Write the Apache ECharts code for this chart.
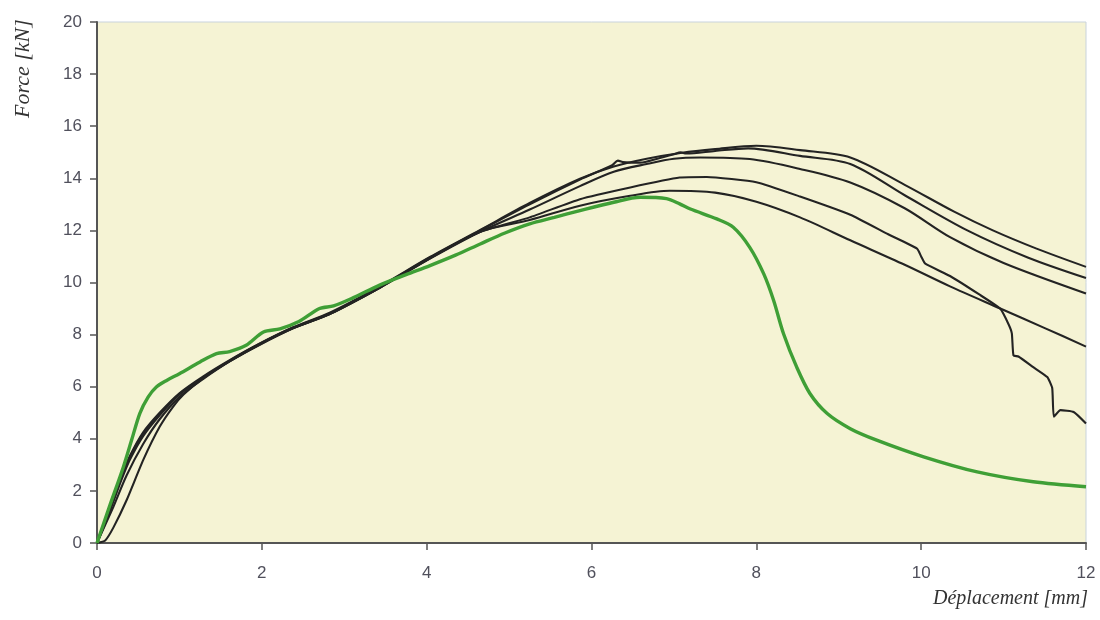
<!DOCTYPE html>
<html>
<head>
<meta charset="utf-8">
<script src="https://cdn.jsdelivr.net/npm/echarts@6/dist/echarts.min.js"></script>
<style>html,body{margin:0;padding:0;background:#fff}#c{width:1100px;height:620px}</style>
</head>
<body>
<div id="c"></div>
<script>
const xTicks = [0, 2, 4, 6, 8, 10, 12];
const yTicks = [0, 2, 4, 6, 8, 10, 12, 14, 16, 18, 20];
const xName = 'Déplacement [mm]';
const yName = 'Force [kN]';

const curveA = [[0,0],[0.1,0.85],[0.2,1.75],[0.3,2.6],[0.4,3.35],[0.56,4.25],[0.76,5.0],[1.0,5.75],[1.29,6.4],[1.61,7.02],[1.97,7.65],[2.38,8.28],[2.83,8.85],[3.43,9.85],[4.04,10.98],[4.65,12.02],[5.25,13.05],[5.86,13.98],[6.27,14.45],[6.67,14.75],[7.1,14.98],[7.5,15.12],[8.0,15.25],[8.53,15.08],[9.14,14.8],[9.8,13.75],[10.4,12.72],[10.87,12.0],[11.4,11.3],[12,10.6]];
const curveB = [[0,0],[0.1,0.8],[0.2,1.7],[0.3,2.55],[0.4,3.3],[0.56,4.2],[0.76,4.95],[1.0,5.72],[1.29,6.36],[1.61,7.0],[1.97,7.64],[2.38,8.27],[2.83,8.82],[3.43,9.83],[4.04,10.96],[4.65,12.0],[5.25,13.0],[5.86,13.95],[6.25,14.5],[6.32,14.68],[6.38,14.62],[6.59,14.6],[6.8,14.75],[7.0,14.92],[7.08,15.0],[7.15,14.95],[7.5,15.05],[7.9,15.15],[8.53,14.86],[9.14,14.55],[9.8,13.35],[10.56,12.0],[11.3,10.95],[12,10.17]];
const curveC = [[0,0],[0.1,0.75],[0.2,1.6],[0.3,2.45],[0.4,3.2],[0.56,4.1],[0.76,4.9],[1.0,5.7],[1.29,6.34],[1.61,6.98],[1.97,7.62],[2.38,8.25],[2.83,8.8],[3.43,9.8],[4.04,10.92],[4.65,11.95],[5.25,12.8],[5.86,13.7],[6.27,14.25],[6.67,14.55],[7.0,14.75],[7.32,14.8],[7.92,14.74],[8.53,14.36],[9.14,13.84],[9.8,12.85],[10.35,11.74],[11.0,10.75],[12,9.58]];
const curveD = [[0,0],[0.1,0.1],[0.2,0.6],[0.36,1.65],[0.56,3.18],[0.76,4.46],[0.92,5.22],[1.05,5.7],[1.29,6.33],[1.61,6.98],[1.97,7.62],[2.38,8.25],[2.83,8.8],[3.43,9.8],[4.04,10.94],[4.65,11.95],[5.25,12.5],[5.86,13.2],[6.47,13.65],[7.07,14.03],[7.4,14.05],[8.0,13.85],[8.53,13.3],[9.14,12.6],[9.6,11.85],[9.95,11.3],[10.0,11.0],[10.05,10.72],[10.35,10.25],[10.7,9.55],[10.96,8.99],[11.06,8.4],[11.1,8.05],[11.12,7.2],[11.18,7.16],[11.36,6.75],[11.53,6.37],[11.59,5.95],[11.61,4.85],[11.69,5.1],[11.85,5.03],[12,4.59]];
const curveE = [[0,0],[0.1,0.7],[0.2,1.4],[0.36,2.6],[0.56,3.8],[0.76,4.75],[1.0,5.6],[1.29,6.3],[1.61,6.97],[1.97,7.6],[2.38,8.24],[2.83,8.8],[3.43,9.8],[4.04,10.93],[4.65,11.95],[5.25,12.4],[5.86,12.95],[6.47,13.33],[6.95,13.52],[7.5,13.45],[8.0,13.1],[8.53,12.5],[9.14,11.62],[9.8,10.68],[10.35,9.85],[10.96,9.0],[11.5,8.25],[12,7.54]];
const curveGreen = [[0,0],[0.15,1.39],[0.32,2.92],[0.42,3.95],[0.52,4.98],[0.62,5.6],[0.72,5.99],[0.85,6.25],[1.0,6.5],[1.25,6.95],[1.45,7.27],[1.61,7.35],[1.81,7.59],[2.02,8.1],[2.22,8.22],[2.45,8.5],[2.7,9.0],[2.87,9.1],[3.1,9.4],[3.43,9.9],[3.75,10.3],[4.04,10.65],[4.35,11.05],[4.65,11.48],[4.95,11.9],[5.25,12.25],[5.55,12.5],[5.86,12.76],[6.27,13.08],[6.59,13.27],[6.91,13.22],[7.07,13.02],[7.2,12.82],[7.52,12.44],[7.72,12.12],[7.92,11.35],[8.09,10.33],[8.21,9.31],[8.33,8.03],[8.49,6.75],[8.65,5.74],[8.86,4.97],[9.14,4.39],[9.46,3.95],[10.03,3.31],[10.68,2.73],[11.36,2.35],[12,2.16]];

const blackCurves = [curveA, curveB, curveC, curveD, curveE];

const chart = echarts.init(document.getElementById('c'), null, {renderer: 'canvas'});
const series = blackCurves.map((d, i) => ({
  type: 'line', data: d, showSymbol: false, smooth: i === 3 ? 0.15 : 0.3,
  lineStyle: {color: '#232323', width: 2.1}, z: 2, animation: false
}));
series.push({
  type: 'line', data: curveGreen, showSymbol: false, smooth: 0.3,
  lineStyle: {color: '#3f9f36', width: 3.4}, z: 3, animation: false
});

chart.setOption({
  animation: false,
  backgroundColor: '#ffffff',
  grid: {left: 97, right: 14, top: 22, bottom: 77, show: true, backgroundColor: '#f5f3d4', borderColor: '#c9d3dc', borderWidth: 1},
  xAxis: {
    type: 'value', min: xTicks[0], max: xTicks[xTicks.length - 1], interval: 2,
    axisLine: {show: true, onZero: false, lineStyle: {color: '#555', width: 2}},
    axisTick: {show: true, inside: false, length: 7, lineStyle: {color: '#555', width: 1.5}},
    axisLabel: {margin: 22, color: '#50505c', fontSize: 17, fontFamily: 'Liberation Sans, Arial, sans-serif'},
    splitLine: {show: false}
  },
  yAxis: {
    type: 'value', min: yTicks[0], max: yTicks[yTicks.length - 1], interval: 2,
    axisLine: {show: true, onZero: false, lineStyle: {color: '#555', width: 2}},
    axisTick: {show: true, inside: false, length: 7, lineStyle: {color: '#555', width: 1.5}},
    axisLabel: {margin: 15, color: '#50505c', fontSize: 17, fontFamily: 'Liberation Sans, Arial, sans-serif'},
    splitLine: {show: false}
  },
  graphic: [
    {type: 'text', left: 933, top: 589, style: {text: xName, font: 'italic 20px "Liberation Serif", "DejaVu Serif", serif', fill: '#333'}},
    {type: 'text', x: 12, y: 118, rotation: Math.PI / 2, style: {text: yName, font: 'italic 22px "Liberation Serif", "DejaVu Serif", serif', fill: '#333', textVerticalAlign: 'top'}}
  ],
  series: series
});
</script>
</body>
</html>
